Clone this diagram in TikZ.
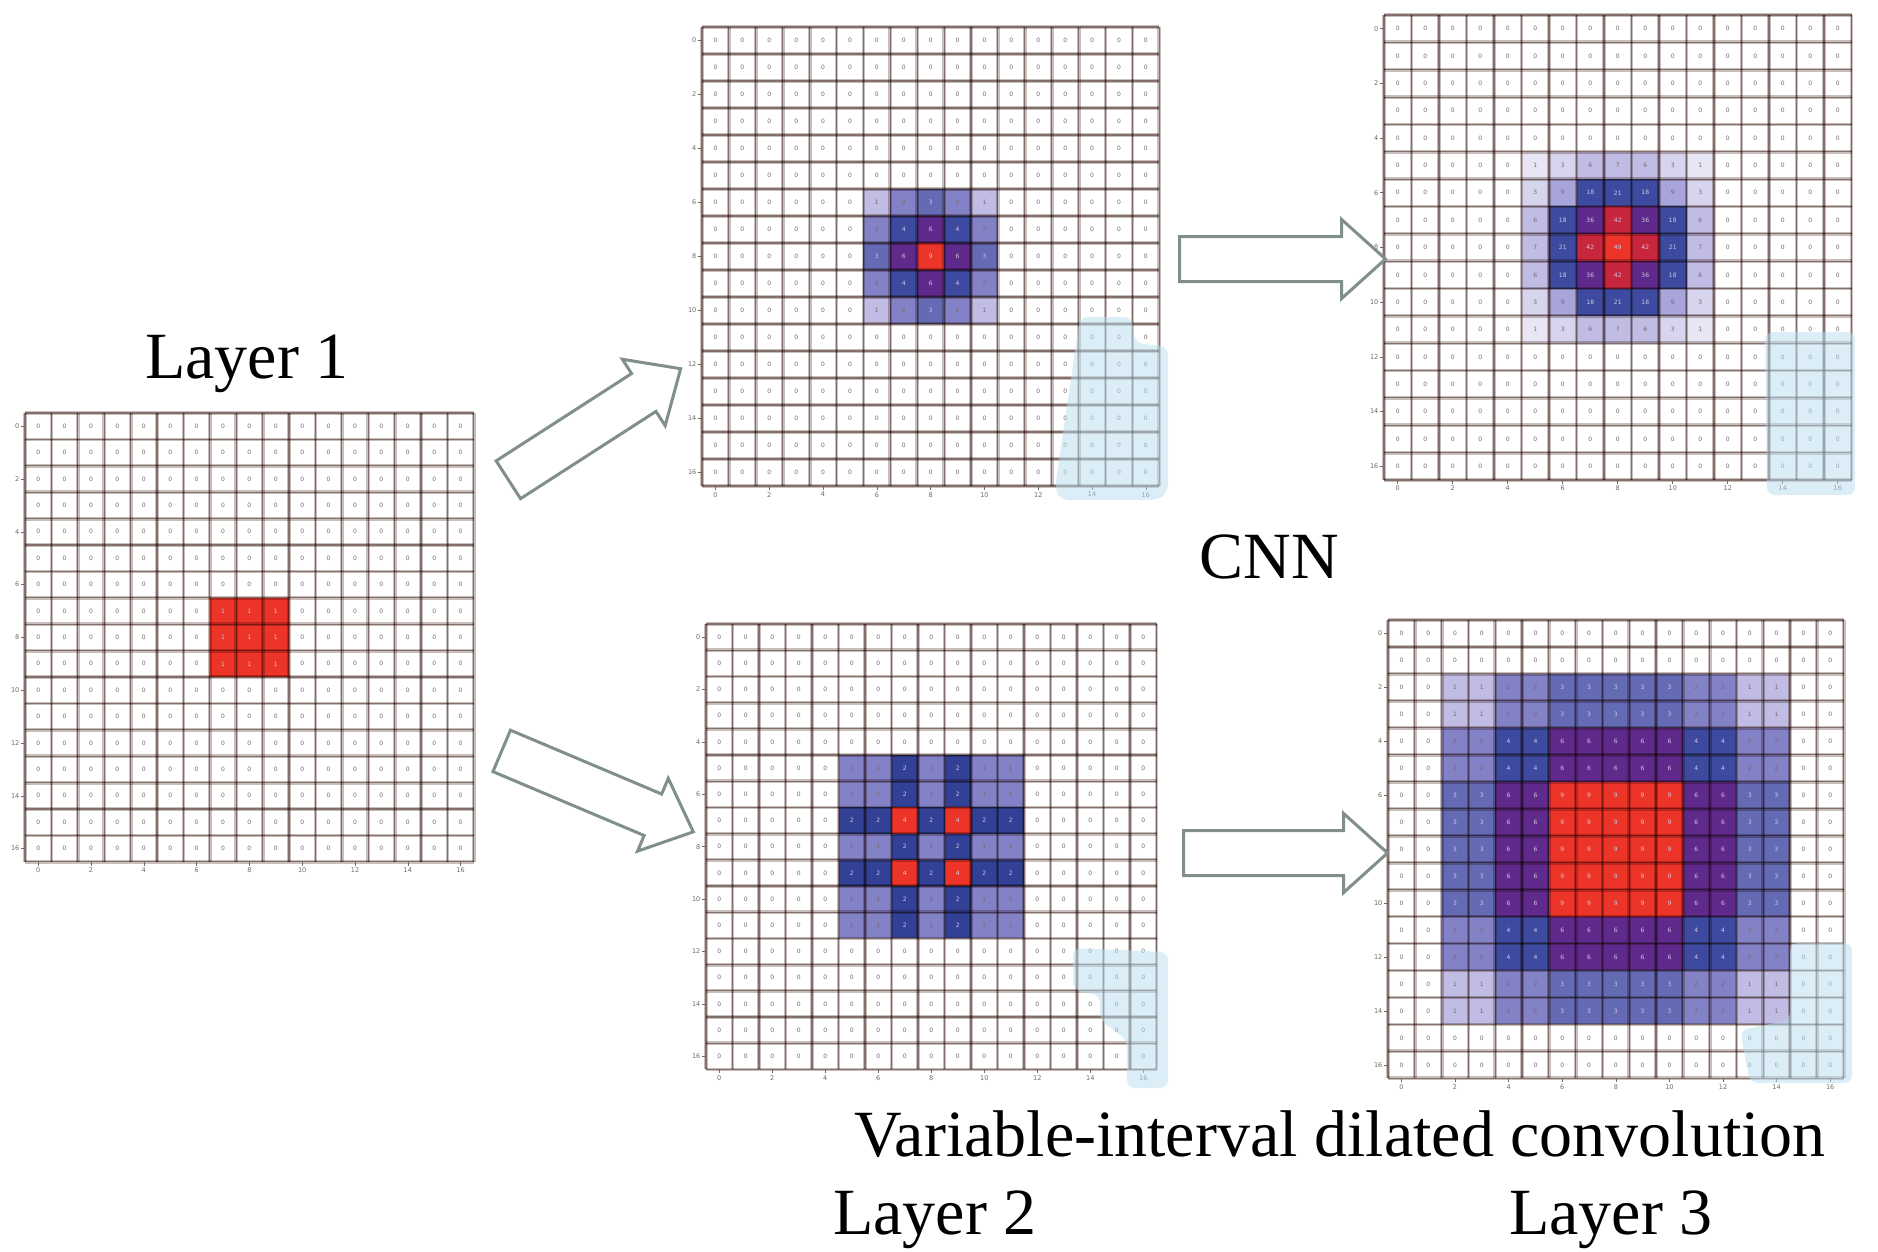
\documentclass[tikz,border=0pt]{standalone}
\usepackage{fontspec}
\setmainfont{Liberation Serif}
\newfontfamily\dvs{DejaVu Sans}
\usetikzlibrary{shapes.arrows}

\definecolor{col0}{RGB}{255,255,255}
\definecolor{col1}{RGB}{232,230,245}
\definecolor{col2}{RGB}{215,212,238}
\definecolor{col3}{RGB}{192,188,228}
\definecolor{col4}{RGB}{168,165,218}
\definecolor{col5}{RGB}{132,130,198}
\definecolor{col6}{RGB}{100,106,180}
\definecolor{col7}{RGB}{62,74,160}
\definecolor{col8}{RGB}{50,64,150}
\definecolor{col9}{RGB}{95,42,140}
\definecolor{col10}{RGB}{200,38,60}
\definecolor{col11}{RGB}{236,52,40}
\definecolor{gridlight}{RGB}{200,190,187}
\definecolor{griddark}{RGB}{168,150,146}
\definecolor{arrowc}{RGB}{128,143,138}
\definecolor{blobc}{RGB}{185,222,240}
\definecolor{ddark}{RGB}{115,105,105}
\definecolor{dlight}{RGB}{205,200,228}

\def\profA{{0,0,0,0,0,0,0,1,1,1,0,0,0,0,0,0,0}}
\def\profB{{0,0,0,0,0,0,1,2,3,2,1,0,0,0,0,0,0}}
\def\profC{{0,0,0,0,0,1,3,6,7,6,3,1,0,0,0,0,0}}
\def\profD{{0,0,0,0,0,1,1,2,1,2,1,1,0,0,0,0,0}}
\def\profE{{0,0,1,1,2,2,3,3,3,3,3,2,2,1,1,0,0}}

\tikzset{
  digit/.style={font=\dvs\fontsize{6}{6}\selectfont, inner sep=0pt},
  tlab/.style={font=\dvs\fontsize{6.5}{6.5}\selectfont, inner sep=0pt, text=ddark},
  tickline/.style={draw=ddark, line width=0.6pt},
  glight/.style={draw=gridlight, line width=3.8pt},
  gdark/.style={draw=griddark, line width=1.1pt},
  blob/.style={fill=blobc, fill opacity=0.5, rounded corners=8pt},
  blockarrow/.style={single arrow, draw=arrowc, line width=3pt, fill=white,
    inner xsep=0pt, inner ysep=21pt, single arrow head extend=17pt,
    single arrow tip angle=84, minimum height=#1},
  lbl/.style={font=\fontsize{66}{79}\selectfont, inner sep=0pt, anchor=base}
}

% #1 name, #2 x0, #3 y0, #4 cell w, #5 cell h, #6 profile, #7 max
\newcommand\gridfill[7]{%
  \foreach \i in {0,...,16}{%
    \foreach \j in {0,...,16}{%
      \pgfmathtruncatemacro\v{#6[\i]*#6[\j]}%
      \pgfmathtruncatemacro\p{100*\v/#7}%
      \pgfmathtruncatemacro\lev{(\p>0)+(\p>3)+(\p>9)+(\p>15)+(\p>19)+(\p>29)+(\p>35)+(\p>46)+(\p>54)+(\p>79)+(\p>94)}%
      \edef\cc{col\lev}%
      \fill[fill=\cc] ({#2+\j*#4},{#3+\i*#5}) rectangle ++(#4,#5);
    }}%
}
\newcommand\griddigits[7]{%
  \foreach \i in {0,...,16}{%
    \foreach \j in {0,...,16}{%
      \pgfmathtruncatemacro\v{#6[\i]*#6[\j]}%
      \pgfmathtruncatemacro\p{100*\v/#7}%
      \ifnum\p>29 \def\dcol{dlight}\else\def\dcol{ddark}\fi
      \node[digit,text=\dcol] (#1-\i-\j) at ({#2+(\j+0.5)*#4},{#3+(\i+0.5)*#5}) {\v};
    }}%
}
% #1 name, #2 x0, #3 y0, #4 cell w, #5 cell h
\newcommand\gridlines[5]{%
  \begin{scope}[blend mode=multiply]
  \foreach \k in {0,...,17}{%
    \draw[glight] ({#2+\k*#4},#3) -- ++(0,{17*#5});
    \draw[glight] (#2,{#3+\k*#5}) -- ++({17*#4},0);
  }%
  \foreach \k in {0,...,17}{%
    \draw[gdark] ({#2+\k*#4},#3) -- ++(0,{17*#5});
    \draw[gdark] (#2,{#3+\k*#5}) -- ++({17*#4},0);
  }%
  \end{scope}
  \foreach \k in {0,2,...,16}{%
    \draw[tickline] (#2,{#3+(\k+0.5)*#5}) -- ++(-4,0);
    \node[tlab,anchor=east] (#1-l\k) at ({#2-5.5},{#3+(\k+0.5)*#5}) {\k};
    \draw[tickline] ({#2+(\k+0.5)*#4},{#3+17*#5}) -- ++(0,4);
    \node[tlab,anchor=north] (#1-b\k) at ({#2+(\k+0.5)*#4},{#3+17*#5+6}) {\k};
  }%
}
\newcommand\fullgrid[7]{%
  \gridfill{#1}{#2}{#3}{#4}{#5}{#6}{#7}%
  \gridlines{#1}{#2}{#3}{#4}{#5}%
  \griddigits{#1}{#2}{#3}{#4}{#5}{#6}{#7}%
}

\begin{document}
\begin{tikzpicture}[x=1pt,y=-1pt]
\useasboundingbox (0,0) rectangle (1878,1251);
\fill[white] (0,0) rectangle (1878,1251);

% Layer 1
\fullgrid{ga}{25}{413}{26.4}{26.4}{\profA}{1}

% CNN layer 2
\fullgrid{gb}{702}{27}{26.9}{27.0}{\profB}{9}
\fill[blob] (1080,317) -- (1132,317) -- (1135,343) -- (1168,347) -- (1168,492) -- (1158,500) -- (1060,500) -- (1055,488) -- cycle;

% CNN layer 3
\fullgrid{gc}{1384}{15}{27.5}{27.35}{\profC}{49}
\fill[blob] (1765,332) -- (1855,332) -- (1855,495) -- (1767,495) -- cycle;

% dilated layer 2
\fullgrid{gd}{706}{624}{26.5}{26.2}{\profD}{4}
\fill[blob] (1073,948) -- (1168,952) -- (1168,1088) -- (1127,1088) -- (1127,1040) -- (1100,1020) -- (1100,995) -- (1073,990) -- cycle;

% dilated layer 3
\fullgrid{ge}{1388}{620}{26.8}{26.96}{\profE}{9}
\fill[blob] (1790,943) -- (1852,943) -- (1852,1083) -- (1750,1083) -- (1740,1030) -- (1790,1020) -- cycle;

% arrows
\node[blockarrow=205, rotate=32.8] (a1) at (584,431) {};
\node[blockarrow=208, rotate=-22.9] (a2) at (586,786.5) {};
\node[blockarrow=206] (a3) at (1270,259) {};
\node[blockarrow=204] (a4) at (1273,853) {};

% labels
\node[lbl] (t1) at (247,378) {Layer 1};
\node[lbl] (t2) at (1269,578) {CNN};
\node[lbl] (t3) at (1340,1156) {Variable-interval dilated convolution};
\node[lbl] (t4) at (935,1234) {Layer 2};
\node[lbl] (t5) at (1611,1234) {Layer 3};
\end{tikzpicture}
\end{document}
